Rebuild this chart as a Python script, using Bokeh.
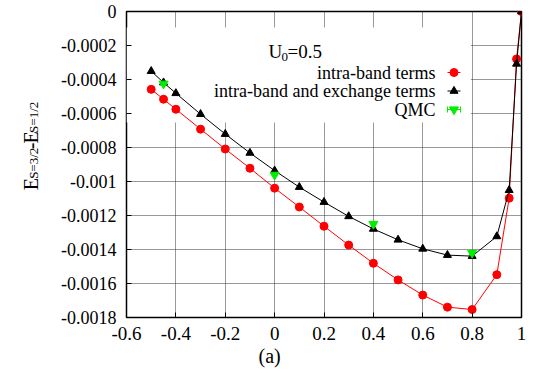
import math
from bokeh.plotting import figure
from bokeh.layouts import row
from bokeh.models import Label, FixedTicker, Range1d, CustomJSTickFormatter, Title
from bokeh.core.properties import value
from bokeh.embed import file_html
from bokeh.resources import INLINE

# ---- data ----
u = [-0.5, -0.45, -0.4, -0.3, -0.2, -0.1, 0.0, 0.1, 0.2, 0.3, 0.4, 0.5, 0.6, 0.7, 0.8, 0.9, 0.95, 0.98, 1.0]
intra_band = [-0.000458, -0.000516, -0.000575, -0.000692, -0.000809, -0.000922, -0.001039, -0.001150,
              -0.001263, -0.001374, -0.001481, -0.001579, -0.001668, -0.001739, -0.001753, -0.001548,
              -0.001098, -0.000279, 0.0]
intra_exchange = [-0.000351, -0.000418, -0.000481, -0.000604, -0.000721, -0.000832, -0.000936, -0.001033,
                  -0.001121, -0.001205, -0.001279, -0.001343, -0.001396, -0.001433, -0.001439, -0.001323,
                  -0.001051, -0.000308, 0.0]
qmc_u = [-0.45, 0.0, 0.4, 0.8]
qmc_val = [-0.000425, -0.000961, -0.001250, -0.001420]
qmc_err = [0.000005, 0.000005, 0.000005, 0.000012]

x_ticks = [-0.6, -0.4, -0.2, 0.0, 0.2, 0.4, 0.6, 0.8, 1.0]
x_tick_labels = ["-0.6", "-0.4", "-0.2", "0", "0.2", "0.4", "0.6", "0.8", "1"]
y_ticks = [0.0, -0.0002, -0.0004, -0.0006, -0.0008, -0.001, -0.0012, -0.0014, -0.0016, -0.0018]
y_tick_labels = ["0", "-0.0002", "-0.0004", "-0.0006", "-0.0008", "-0.001", "-0.0012", "-0.0014",
                 "-0.0016", "-0.0018"]

series_names = ["intra-band terms", "intra-band and exchange terms", "QMC"]
x_label = "(a)"
param_label = ["U", "0", "=0.5"]
y_label_parts = ["E", "S=3/2", "-", "E", "S=1/2"]

# ---- layout helpers ----
W, H = 540, 373
LW = 40                       # width of the strip that carries the y label
FL, FR, FT, FB = 126, 521, 11, 317
X0, X1, Y0, Y1 = -0.6, 1.0, -0.0018, 0.0


def dx(px):
    return X0 + (px - FL) / (FR - FL) * (X1 - X0)


def dy(py):
    return Y1 - (py - FT) / (FB - FT) * (Y1 - Y0)


FONT = "Liberation Serif"
RED = "#ff0000"
BLACK = "#000000"
GREEN = "#00ee00"

p = figure(width=W - LW, height=H, output_backend="svg", toolbar_location=None,
           x_range=Range1d(X0, X1), y_range=Range1d(Y0, Y1),
           min_border_left=FL - LW, min_border_right=W - FR, min_border_top=FT, min_border_bottom=H - FB)
p.background_fill_color = "white"
p.border_fill_color = "white"
p.outline_line_color = "black"
p.outline_line_width = 1.5

tick_js = """
let best = 0; let bd = 1e9;
for (let i = 0; i < ticks_ref.length; i++) {
  const d = Math.abs(ticks_ref[i] - tick);
  if (d < bd) { bd = d; best = i; }
}
return labels[best];
"""

xa = p.xaxis[0]
ya = p.yaxis[0]
xa.ticker = FixedTicker(ticks=x_ticks)
xa.formatter = CustomJSTickFormatter(args=dict(ticks_ref=x_ticks, labels=x_tick_labels), code=tick_js)
ya.ticker = FixedTicker(ticks=y_ticks)
ya.formatter = CustomJSTickFormatter(args=dict(ticks_ref=y_ticks, labels=y_tick_labels), code=tick_js)
for ax in (xa, ya):
    ax.major_tick_in = 5
    ax.major_tick_out = 0
    ax.minor_tick_line_color = None
    ax.axis_line_color = None
    ax.major_tick_line_color = "black"
    ax.major_tick_line_width = 1
    ax.major_label_text_font = FONT
    ax.major_label_text_color = "black"
xa.major_label_text_font_size = "19px"
ya.major_label_text_font_size = "18px"
xa.major_label_standoff = 9
ya.major_label_standoff = 10

for g in (p.xgrid[0], p.ygrid[0]):
    g.grid_line_color = "#333333"
    g.grid_line_dash = "1 1"
    g.grid_line_width = 1
p.xgrid[0].ticker = FixedTicker(ticks=x_ticks)
p.ygrid[0].ticker = FixedTicker(ticks=y_ticks)

# opaque key area (hides the grid behind the key)
p.quad(left=X0, right=0.795, top=dy(27), bottom=dy(122), fill_color="white", line_color=None)

# data series
p.line(u, intra_band, line_color=RED, line_width=1)
p.scatter(u, intra_band, marker="circle", size=8, fill_color=RED, line_color=RED)
p.line(u, intra_exchange, line_color=BLACK, line_width=1)
p.scatter(u, intra_exchange, marker="triangle", size=8, fill_color=BLACK, line_color=BLACK)

lo = [v - e for v, e in zip(qmc_val, qmc_err)]
hi = [v + e for v, e in zip(qmc_val, qmc_err)]
p.segment(qmc_u, lo, qmc_u, hi, line_color=GREEN, line_width=1)
p.scatter(qmc_u, lo, marker="dash", size=6, line_color=GREEN)
p.scatter(qmc_u, hi, marker="dash", size=6, line_color=GREEN)
p.scatter(qmc_u, qmc_val, marker="inverted_triangle", size=9, fill_color=GREEN, line_color=GREEN)

# ---- key (text right, sample at right as in gnuplot) ----
rows_py = [72, 90.5, 109]
for name, py in zip(series_names, rows_py):
    p.add_layout(Label(x=dx(435), y=dy(py), text=name, text_align="right", text_baseline="middle",
                       text_font=FONT, text_font_size="18px", text_color="black"))
p.line([dx(447), dx(460)], [dy(rows_py[0])] * 2, line_color=RED, line_width=1)
p.scatter([dx(453.5)], [dy(rows_py[0])], marker="circle", size=8, fill_color=RED, line_color=RED)
p.line([dx(447), dx(460)], [dy(rows_py[1])] * 2, line_color=BLACK, line_width=1)
p.scatter([dx(453.5)], [dy(rows_py[1])], marker="triangle", size=8, fill_color=BLACK, line_color=BLACK)
p.line([dx(447), dx(460)], [dy(rows_py[2])] * 2, line_color=GREEN, line_width=1)
p.scatter([dx(447), dx(460)], [dy(rows_py[2])] * 2, marker="dash", size=6, angle=math.pi / 2,
          line_color=GREEN)
p.scatter([dx(453.5)], [dy(rows_py[2])], marker="inverted_triangle", size=9, fill_color=GREEN,
          line_color=GREEN)

# U_0=0.5
for txt, px, py, fs in zip(param_label, [268, 281, 287], [51, 56, 51], ["19px", "13px", "19px"]):
    p.add_layout(Label(x=dx(px), y=dy(py), text=txt, text_align="left", text_baseline="alphabetic",
                       text_font=FONT, text_font_size=fs, text_color="black"))

# x label "(a)" as a title below the axis
p.add_layout(Title(text=x_label, align="left", offset=132, standoff=0, text_font=FONT,
                   text_font_size="20px", text_font_style="normal", text_color="black"), "below")

# ---- strip on the left carrying the rotated y label ----
q = figure(width=LW, height=H, output_backend="svg", toolbar_location=None,
           x_range=Range1d(0, LW), y_range=Range1d(H, 0),
           x_axis_location=None, y_axis_location=None,
           min_border_left=0, min_border_right=0, min_border_top=0, min_border_bottom=0)
q.outline_line_color = None
q.background_fill_color = "white"
q.border_fill_color = "white"
q.grid.visible = False
big = [(y_label_parts[0], 30, 218), (y_label_parts[2], 30, 168), (y_label_parts[3], 30, 161)]
small = [(y_label_parts[1], 33, 204), (y_label_parts[4], 33, 148)]
q.text(x=[b[1] for b in big], y=[b[2] for b in big], text=[b[0] for b in big], angle=math.pi / 2,
       text_align="left", text_baseline="alphabetic", text_font=value(FONT),
       text_font_size=value("20px"), text_color="black")
q.text(x=[b[1] for b in small], y=[b[2] for b in small], text=[b[0] for b in small], angle=math.pi / 2,
       text_align="left", text_baseline="alphabetic", text_font=value(FONT),
       text_font_size=value("13px"), text_color="black")

layout = row(q, p)
open("out.html", "w").write(file_html(layout, INLINE))
